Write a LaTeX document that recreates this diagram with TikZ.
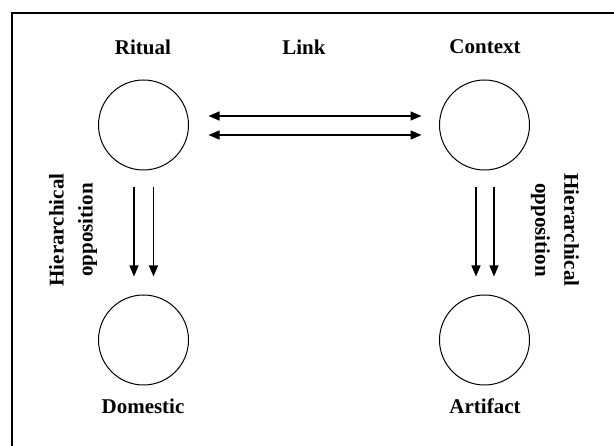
\documentclass[tikz,border=0pt]{standalone}
\usepackage{fontspec}
\setmainfont{Liberation Serif}
\usetikzlibrary{arrows.meta}

\begin{document}
\begin{tikzpicture}[x=1pt, y=-1pt, >={Triangle[length=11pt, width=9pt]},
        circ/.style={draw, circle, minimum size=90pt, inner sep=0pt, line width=1pt},
        lbl/.style={font=\fontsize{21}{25}\selectfont\bfseries},
        side/.style={align=center, font=\fontsize{21}{29}\selectfont\bfseries},
        link/.style={<->, line width=1.4pt},
        drop/.style={->, line width=1.4pt}]

        \useasboundingbox (0,0) rectangle (614,446);

        % FRAME
        \draw[line width=2.4pt] (12,446) -- (12,13) -- (614,13);

        % CIRCLES
        \node[circ] (ritual) at (143.5,125) {};
        \node[circ] (context) at (484.5,125) {};
        \node[circ] (domestic) at (143.5,340) {};
        \node[circ] (artifact) at (484.5,340) {};

        % LABELS
        \node[lbl] (ritualtxt) at (143,47) {Ritual};
        \node[lbl] (linktxt) at (304,47) {Link};
        \node[lbl] (contexttxt) at (485,47) {Context};
        \node[lbl] (domestictxt) at (143,406) {Domestic};
        \node[lbl] (artifacttxt) at (485,406) {Artifact};
        \node[side, rotate=90] (hierleft) at (73,230) {Hierarchical\\opposition};
        \node[side, rotate=-90] (hierright) at (555,230) {Hierarchical\\opposition};

        % Link arrows
        \draw[link] ([xshift=19.5pt, yshift=9pt]ritual.east) -- ([xshift=-17.5pt, yshift=9pt]context.west);
        \draw[link] ([xshift=19.5pt, yshift=-10pt]ritual.east) -- ([xshift=-17.5pt, yshift=-10pt]context.west);

        % Opposition arrows
        \draw[drop] ([xshift=-9.5pt, yshift=-17pt]ritual.south) -- ([xshift=-9.5pt, yshift=18pt]domestic.north);
        \draw[drop] ([xshift=10pt, yshift=-17pt]ritual.south) -- ([xshift=10pt, yshift=18pt]domestic.north);
        \draw[drop] ([xshift=-8.5pt, yshift=-17pt]context.south) -- ([xshift=-8.5pt, yshift=18pt]artifact.north);
        \draw[drop] ([xshift=9.5pt, yshift=-17pt]context.south) -- ([xshift=9.5pt, yshift=18pt]artifact.north);
\end{tikzpicture}
\end{document}
